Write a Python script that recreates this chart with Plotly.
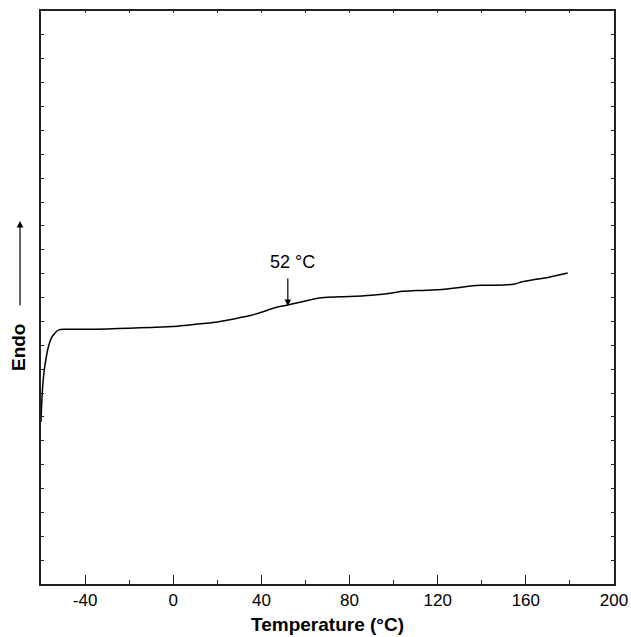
import plotly.graph_objects as go

# Temperature (°C) and heat-flow signal (arbitrary units, Endo up)
temperature = [-60, -59.5, -59, -58.4, -57.6, -57, -56, -55, -54, -53, -52, -51, -50,
               -40, -30, -20, -10, 0, 5, 10, 15, 20, 25, 30, 35, 40, 45, 50, 55, 60,
               65, 70, 80, 90, 95, 100, 104, 110, 120, 130, 135, 140, 150, 155, 158,
               163, 170, 175, 179]
heat_flow = [6.785, 7.916, 8.545, 9.047, 9.508, 9.801, 10.136, 10.346, 10.471, 10.576,
             10.631, 10.656, 10.668, 10.672, 10.681, 10.714, 10.748, 10.785, 10.827,
             10.877, 10.919, 10.974, 11.058, 11.150, 11.246, 11.380, 11.539, 11.652,
             11.749, 11.853, 11.960, 12.008, 12.038, 12.092, 12.138, 12.200, 12.262,
             12.289, 12.323, 12.419, 12.482, 12.511, 12.524, 12.565, 12.649, 12.733,
             12.838, 12.942, 13.026]

x_ticks = [-40, 0, 40, 80, 120, 160, 200]
x_tick_labels = ["-40", "0", "40", "80", "120", "160", "200"]

tg_temp = 52
tg_signal = 11.644
tg_label = "52 °C"

FONT = "Liberation Sans, Arial, sans-serif"

fig = go.Figure()
fig.add_trace(go.Scatter(x=temperature, y=heat_flow, mode="lines",
                         line=dict(color="black", width=1.5, shape="spline",
                                   smoothing=0.6),
                         showlegend=False, hoverinfo="skip"))
# invisible trace on top axis for top ticks
fig.add_trace(go.Scatter(x=[-60, 200], y=[0, 0], xaxis="x2", mode="lines",
                         line=dict(width=0), showlegend=False, hoverinfo="skip"))

fig.update_layout(
    width=631, height=637,
    margin=dict(l=41, r=17, t=11, b=53, autoexpand=False),
    paper_bgcolor="white", plot_bgcolor="white",
    font=dict(family=FONT, size=17, color="black"),
    xaxis=dict(range=[-60, 200], tickmode="array", tickvals=x_ticks,
               ticktext=x_tick_labels, ticks="inside", ticklen=9, tickwidth=1.2,
               tickcolor="#222", showline=True, linecolor="#222", linewidth=1.5,
               showgrid=False, zeroline=False, automargin=False,
               minor=dict(dtick=20, tick0=0, ticks="inside", ticklen=4,
                          tickwidth=1.2, tickcolor="#222", showgrid=False),
               tickfont=dict(size=17),
               title=dict(text="<b>Temperature (°C)</b>", font=dict(size=19),
                          standoff=9)),
    xaxis2=dict(range=[-60, 200], overlaying="x", side="top", anchor="y",
                dtick=20, tick0=0, ticks="inside", ticklen=2, tickwidth=1.2,
                tickcolor="#222", showticklabels=False, showline=True,
                linecolor="#222", linewidth=1.5, showgrid=False, zeroline=False,
                automargin=False),
    yaxis=dict(range=[0, 24], dtick=1, ticks="inside", ticklen=3, tickwidth=1.2,
               tickcolor="#222", showticklabels=False, showline=True,
               linecolor="#222", linewidth=1.5, mirror="ticks",
               showgrid=False, zeroline=False, automargin=False),
)

# Tg marker
fig.add_annotation(x=tg_temp, y=tg_signal, xref="x", yref="y", text="",
                   showarrow=True, ax=0, ay=-29, arrowhead=2, arrowsize=1.1,
                   arrowwidth=1.2, arrowcolor="black")
fig.add_annotation(x=53.9, y=13.508, xref="x", yref="y", text=tg_label,
                   xanchor="center", yanchor="middle",
                   showarrow=False, font=dict(size=18))

# Endo label with arrow
fig.add_annotation(x=-0.0401, y=0.4136, xref="paper", yref="paper",
                   xanchor="center", yanchor="middle",
                   text="<b>Endo</b>", textangle=-90, showarrow=False,
                   font=dict(size=19))
fig.add_annotation(x=-0.0366, y=0.6335, xref="paper", yref="paper", text="",
                   showarrow=True, ax=0, ay=86, arrowhead=2, arrowsize=1.1,
                   arrowwidth=1.2, arrowcolor="black")

fig.write_html("out.html")
